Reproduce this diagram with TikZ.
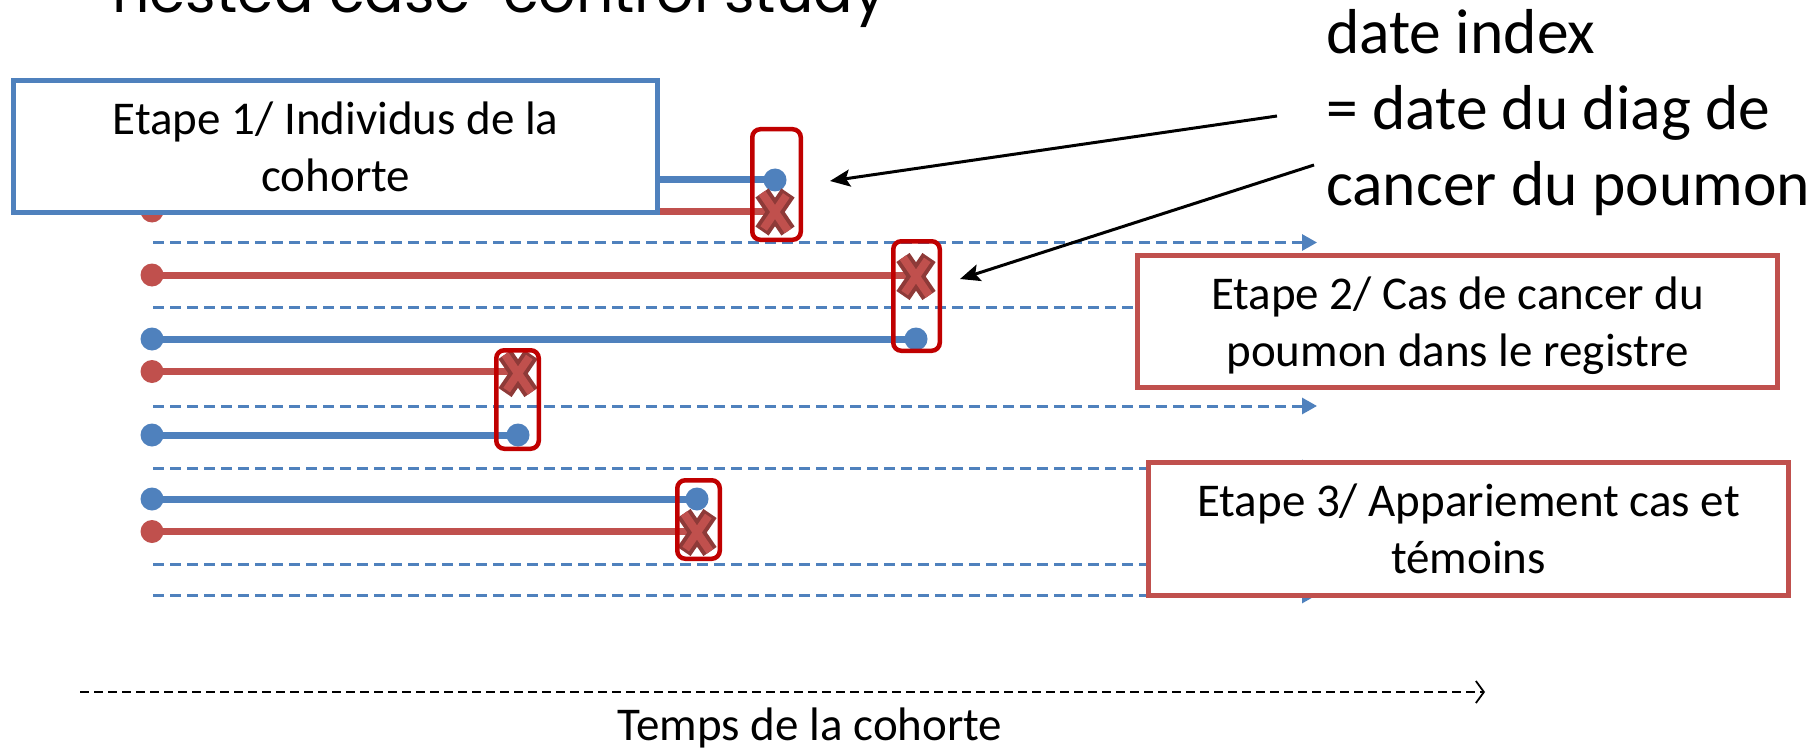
\documentclass[tikz,border=0pt]{standalone}
\usepackage{fontspec}
\setmainfont{Carlito}
\newfontfamily\titlefont{Poppins}
\usetikzlibrary{arrows.meta}
\definecolor{oblue}{HTML}{4F81BD}
\definecolor{ored}{HTML}{C0504D}
\definecolor{dred}{HTML}{C00000}
\definecolor{xdark}{HTML}{8E3A38}
\tikzset{
  dashblue/.style={draw=oblue, line width=3pt, dash pattern=on 11pt off 6pt, -{Triangle[length=15pt,width=16pt]}},
  bdot/.style={circle, fill=oblue, inner sep=0pt, minimum size=23pt},
  rdot/.style={circle, fill=ored, inner sep=0pt, minimum size=23pt},
  bline/.style={draw=oblue, line width=7pt},
  rline/.style={draw=ored, line width=7pt},
  selbox/.style={draw=dred, line width=4.5pt, rounded corners=8pt, inner sep=0pt},
  stepbox/.style={line width=5pt, fill=white, align=center, inner sep=0pt, font=\fontsize{47}{57}\selectfont},
  note/.style={align=left, inner sep=0pt, font=\fontsize{63.5}{76}\selectfont},
  callout/.style={draw=black, line width=3pt, -{Stealth[length=20pt,width=17pt,inset=4pt]}},
  timearrow/.style={draw=black, line width=1.8pt, dash pattern=on 9pt off 5pt, -{Straight Barb[length=8pt,width=22pt]}},
  xmark/.pic={
    \draw[xdark, line width=16pt] (-13,-19) -- (13,19) (13,-19) -- (-13,19);
    \draw[ored, line width=8pt, shorten <=3pt, shorten >=3pt] (-13,-19) -- (13,19) (13,-19) -- (-13,19);
  }
}
\begin{document}
\begin{tikzpicture}[x=1pt,y=-1pt]
\clip (0,0) rectangle (1819,754);
\fill[white] (0,0) rectangle (1819,754);

% title (cut off at top, as in the original slide)
\node[anchor=base west, inner sep=0pt, font=\titlefont\fontsize{58.5}{60}\selectfont] (title) at (112,13) {nested case-control study};

% dashed blue timelines
\foreach \i/\y in {1/242.5,2/307.5,3/406,4/468,5/564,6/595}{
  \coordinate (da\i) at (153,\y);
  \coordinate (db\i) at (1317,\y);
  \draw[dashblue] (da\i) -- (db\i);
}

% start dots
\node[bdot] (s1) at (152,180) {};
\node[rdot] (s2) at (152,211) {};
\node[rdot] (s3) at (152,275) {};
\node[bdot] (s4) at (152,339) {};
\node[rdot] (s5) at (152,371.5) {};
\node[bdot] (s6) at (152,435) {};
\node[bdot] (s7) at (152,499) {};
\node[rdot] (s8) at (152,531.5) {};

% end points
\node[bdot] (e1) at (775,180) {};
\coordinate (e2) at (775,211);
\coordinate (e3) at (916,275);
\node[bdot] (e4) at (916,339) {};
\coordinate (e5) at (518,371.5);
\node[bdot] (e6) at (518,435) {};
\node[bdot] (e7) at (697,499) {};
\coordinate (e8) at (697,531.5);

% follow-up lines
\draw[bline] (s1.center) -- (e1.center);
\draw[rline] (s2.center) -- (e2);
\draw[rline] (s3.center) -- (e3);
\draw[bline] (s4.center) -- (e4.center);
\draw[rline] (s5.center) -- (e5);
\draw[bline] (s6.center) -- (e6.center);
\draw[bline] (s7.center) -- (e7.center);
\draw[rline] (s8.center) -- (e8);

% cancer crosses
\pic at (775,212) {xmark};
\pic at (916,276.5) {xmark};
\pic at (518,373.5) {xmark};
\pic at (697,532.5) {xmark};

% matched-set boxes
\node[selbox, minimum width=48.5pt, minimum height=110.5pt] (r1) at (776.5,184.5) {};
\node[selbox, minimum width=46.5pt, minimum height=109.5pt] (r2) at (916.5,296) {};
\node[selbox, minimum width=42.5pt, minimum height=98.5pt] (r3) at (517.5,399.5) {};
\node[selbox, minimum width=42.5pt, minimum height=78.5pt] (r4) at (698.5,519.5) {};

% step boxes
\node[stepbox, draw=oblue, minimum width=644pt, minimum height=132.5pt] (b1) at (335.75,146.5) {Etape 1/ Individus de la\\cohorte};
\node[stepbox, draw=ored, minimum width=640pt, minimum height=132pt] (b2) at (1457.5,321.5) {Etape 2/ Cas de cancer du\\\smash{poumon dans le registre}};
\node[stepbox, draw=ored, minimum width=640pt, minimum height=133pt] (b3) at (1468.5,529) {Etape 3/ Appariement cas et\\témoins};

% index date note
\node[note, anchor=north west] (idx) at (1326,9) {date index\\= date du diag de\\cancer du poumon};
\coordinate (a1s) at (1277,116);
\coordinate (a1e) at (830,181);
\coordinate (a2s) at (1314,165);
\coordinate (a2e) at (960,279);
\draw[callout] (a1s) -- (a1e);
\draw[callout] (a2s) -- (a2e);

% time axis
\coordinate (t0) at (80,692);
\coordinate (t1) at (1485,692);
\draw[timearrow] (t0) -- (t1);
\node[anchor=base, inner sep=0pt, font=\fontsize{47}{57}\selectfont] (tl) at (810,740) {Temps de la cohorte};
\end{tikzpicture}
\end{document}
